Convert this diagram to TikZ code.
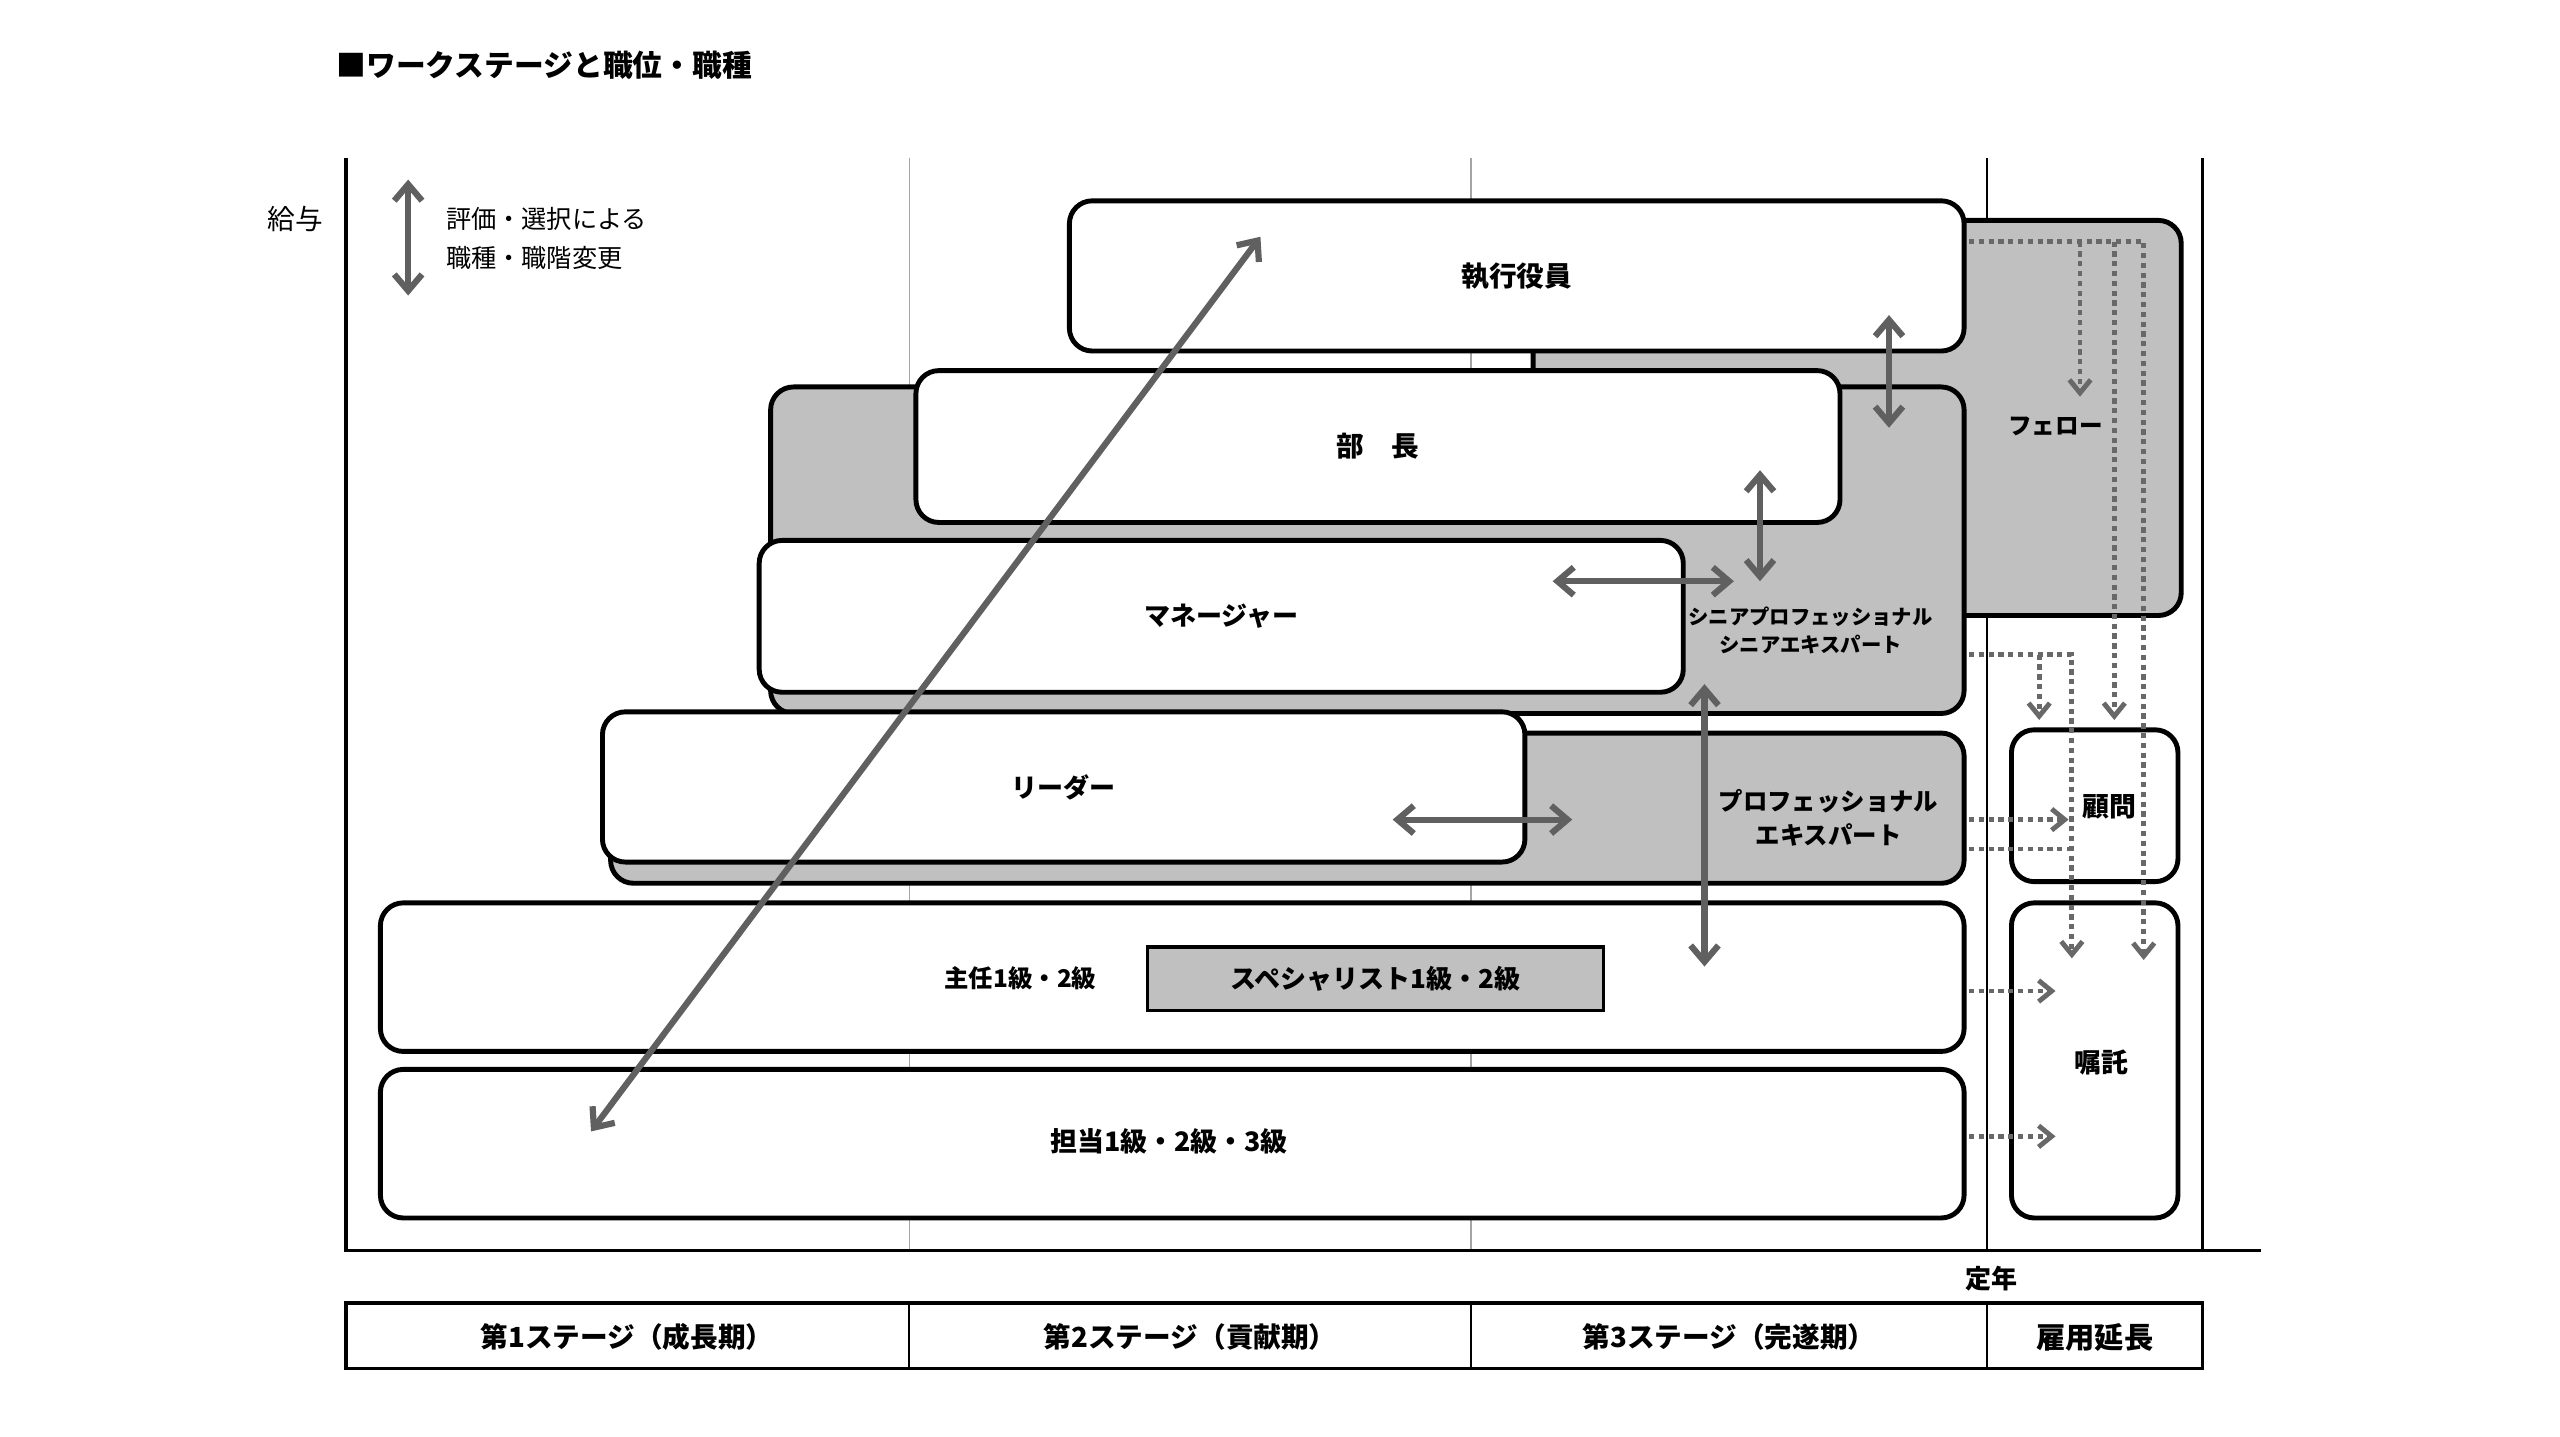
\documentclass[tikz,border=0pt]{standalone}
\usepackage{fontspec}
\setmainfont{Noto Sans CJK JP}
\usetikzlibrary{arrows.meta}
\definecolor{boxgray}{RGB}{192,192,192}
\definecolor{arrgray}{RGB}{96,96,96}
\definecolor{dotgray}{RGB}{104,104,104}
\definecolor{stagegray}{RGB}{165,165,165}
\newcommand\fsz[1]{\fontsize{#1}{#1}\selectfont}
\begin{document}
\begin{tikzpicture}[x=1bp,y=-1bp,
  wbox/.style={draw=black, line width=3bp, rounded corners=14bp, fill=white, inner sep=0pt, font=\bfseries\fsz{16}},
  gbox/.style={wbox, fill=boxgray},
  lbl/.style={font=\bfseries\fsz{16}, inner sep=0pt, align=center},
  txt/.style={font=\fsz{16}, inner sep=0pt},
  garrow/.style={draw=arrgray, line width=3.8bp, {Straight Barb[length=10bp,width=17bp]}-{Straight Barb[length=10bp,width=17bp]}},
  darrow/.style={draw=dotgray, line width=3bp, dash pattern=on 3.2bp off 2.8bp, -{Straight Barb[length=8bp,width=13bp]}},
  dline/.style={draw=dotgray, line width=3bp, dash pattern=on 3.2bp off 2.8bp},
  axis/.style={draw=black, line width=2bp},
  thinax/.style={draw=black, line width=1.3bp},
  stageline/.style={draw=stagegray, line width=0.8bp}
]
\fill[white] (0,0) rectangle (1568,880);
\useasboundingbox (0,0) rectangle (1568,880);

% title
\node[lbl, anchor=west, font=\bfseries\fsz{18.3}] (title) at (206,40) {■ワークステージと職位・職種};

% axes and stage lines
\draw[stageline] (557,97) -- (557,766);
\draw[stageline] (901,97) -- (901,766);
\draw[thinax] (1217,97) -- (1217,766);
\draw[thinax] (1349,97) -- (1349,766);
\draw[axis] (212,97) -- (212,766) -- (1385,766);

% y label and legend
\node[txt, font=\fsz{17}] (kyuyo) at (181,134) {給与};
\coordinate (lgA) at (250,110);
\coordinate (lgB) at (250,181);
\draw[garrow] (lgA) -- (lgB);
\node[txt, anchor=west, font=\fsz{15.5}] (lg1) at (273,134) {評価・選択による};
\node[txt, anchor=west, font=\fsz{15.5}] (lg2) at (273,158) {職種・職階変更};

% boxes (back to front)
\node[gbox, minimum width=397bp, minimum height=242bp] (fellow) at (1137.5,256) {};
\node[lbl, font=\bfseries\fsz{14.5}] (fellowL) at (1259,261) {フェロー};
\node[wbox, minimum width=548bp, minimum height=92bp, font=\bfseries\fsz{17}] (exec) at (929,169) {執行役員};
\node[gbox, minimum width=731bp, minimum height=200bp] (senior) at (837.5,337) {};
\node[lbl, font=\bfseries\fsz{12.5}] (seniorL) at (1109,386) {シニアプロフェッショナル\\[5bp]シニアエキスパート};
\node[wbox, minimum width=566bp, minimum height=93bp, font=\bfseries\fsz{17}] (bucho) at (844,273.5) {部　長};
\node[wbox, minimum width=566bp, minimum height=93bp] (manager) at (748,377.5) {マネージャー};
\node[gbox, minimum width=829bp, minimum height=92bp] (pro) at (788.5,495) {};
\node[lbl, font=\bfseries\fsz{15}] (proL) at (1120,501) {プロフェッショナル\\[6bp]エキスパート};
\node[wbox, minimum width=565bp, minimum height=92bp] (leader) at (651.5,482) {リーダー};
\node[wbox, minimum width=970bp, minimum height=91bp] (shunin) at (718,598.5) {};
\node[lbl, font=\bfseries\fsz{15}] (shuninL) at (625,599) {主任1級・2級};
\node[draw=black, line width=2bp, fill=boxgray, minimum width=279bp, minimum height=39bp, inner sep=0pt, font=\bfseries\fsz{16}] (spec) at (842.5,599.5) {スペシャリスト1級・2級};
\node[wbox, minimum width=970bp, minimum height=91bp] (tanto) at (718,700.5) {};
\node[lbl, font=\bfseries\fsz{16.5}] (tantoL) at (716,699) {担当1級・2級・3級};
\node[wbox, minimum width=102bp, minimum height=93bp] (komon) at (1283,493.5) {};
\node[wbox, minimum width=102bp, minimum height=193bp] (shoku) at (1283,649.5) {};
\node[lbl, font=\bfseries\fsz{16.5}] (komonL) at (1292,494) {顧問};
\node[lbl, font=\bfseries\fsz{16.5}] (shokuL) at (1287,651) {嘱託};

% solid gray arrows
\coordinate (dA) at (362,693);
\coordinate (dB) at (772,145);
\draw[garrow] (dA) -- (dB);
\coordinate (v1a) at (1157,193); \coordinate (v1b) at (1157,262);
\draw[garrow] (v1a) -- (v1b);
\coordinate (v2a) at (1078,288); \coordinate (v2b) at (1078,356);
\draw[garrow] (v2a) -- (v2b);
\coordinate (h1a) at (951,356); \coordinate (h1b) at (1062,356);
\draw[garrow] (h1a) -- (h1b);
\coordinate (h2a) at (853,502); \coordinate (h2b) at (963,502);
\draw[garrow] (h2a) -- (h2b);
\coordinate (v3a) at (1044,419); \coordinate (v3b) at (1044,592);
\draw[garrow] (v3a) -- (v3b);

% dotted connectors
\coordinate (e0) at (1206,148);
\coordinate (f1) at (1274,148); \coordinate (f1t) at (1274,243);
\coordinate (f2) at (1295,148); \coordinate (f2t) at (1295,441);
\coordinate (f3t) at (1313,588);
\draw[darrow] (e0) -| (f3t);
\draw[darrow] (f1) -- (f1t);
\draw[darrow] (f2) -- (f2t);
\coordinate (s0) at (1206,401);
\coordinate (s1) at (1249,401); \coordinate (s1t) at (1249,441);
\coordinate (s2t) at (1269,587);
\draw[darrow] (s0) -| (s2t);
\draw[darrow] (s1) -- (s1t);
\coordinate (p0) at (1206,502); \coordinate (p0t) at (1267,502);
\draw[darrow] (p0) -- (p0t);
\coordinate (p1) at (1206,520); \coordinate (p1t) at (1269,520);
\draw[dline] (p1) -- (p1t);
\coordinate (c0) at (1206,607); \coordinate (c0t) at (1259,607);
\draw[darrow] (c0) -- (c0t);
\coordinate (t0) at (1206,696); \coordinate (t0t) at (1259,696);
\draw[darrow] (t0) -- (t0t);

% retirement label
\node[lbl, font=\bfseries\fsz{16}] (teinen) at (1220,783) {定年};

% stage table
\draw[axis] (212,798) rectangle (1349,838);
\draw[thinax] (557,798) -- (557,838);
\draw[thinax] (901,798) -- (901,838);
\draw[thinax] (1217,798) -- (1217,838);
\node[lbl, font=\bfseries\fsz{17}] (st1) at (384,819) {第1ステージ（成長期）};
\node[lbl, font=\bfseries\fsz{17}] (st2) at (729,819) {第2ステージ（貢献期）};
\node[lbl, font=\bfseries\fsz{17}] (st3) at (1059,819) {第3ステージ（完遂期）};
\node[lbl, font=\bfseries\fsz{18}] (st4) at (1283,819) {雇用延長};
\end{tikzpicture}
\end{document}
